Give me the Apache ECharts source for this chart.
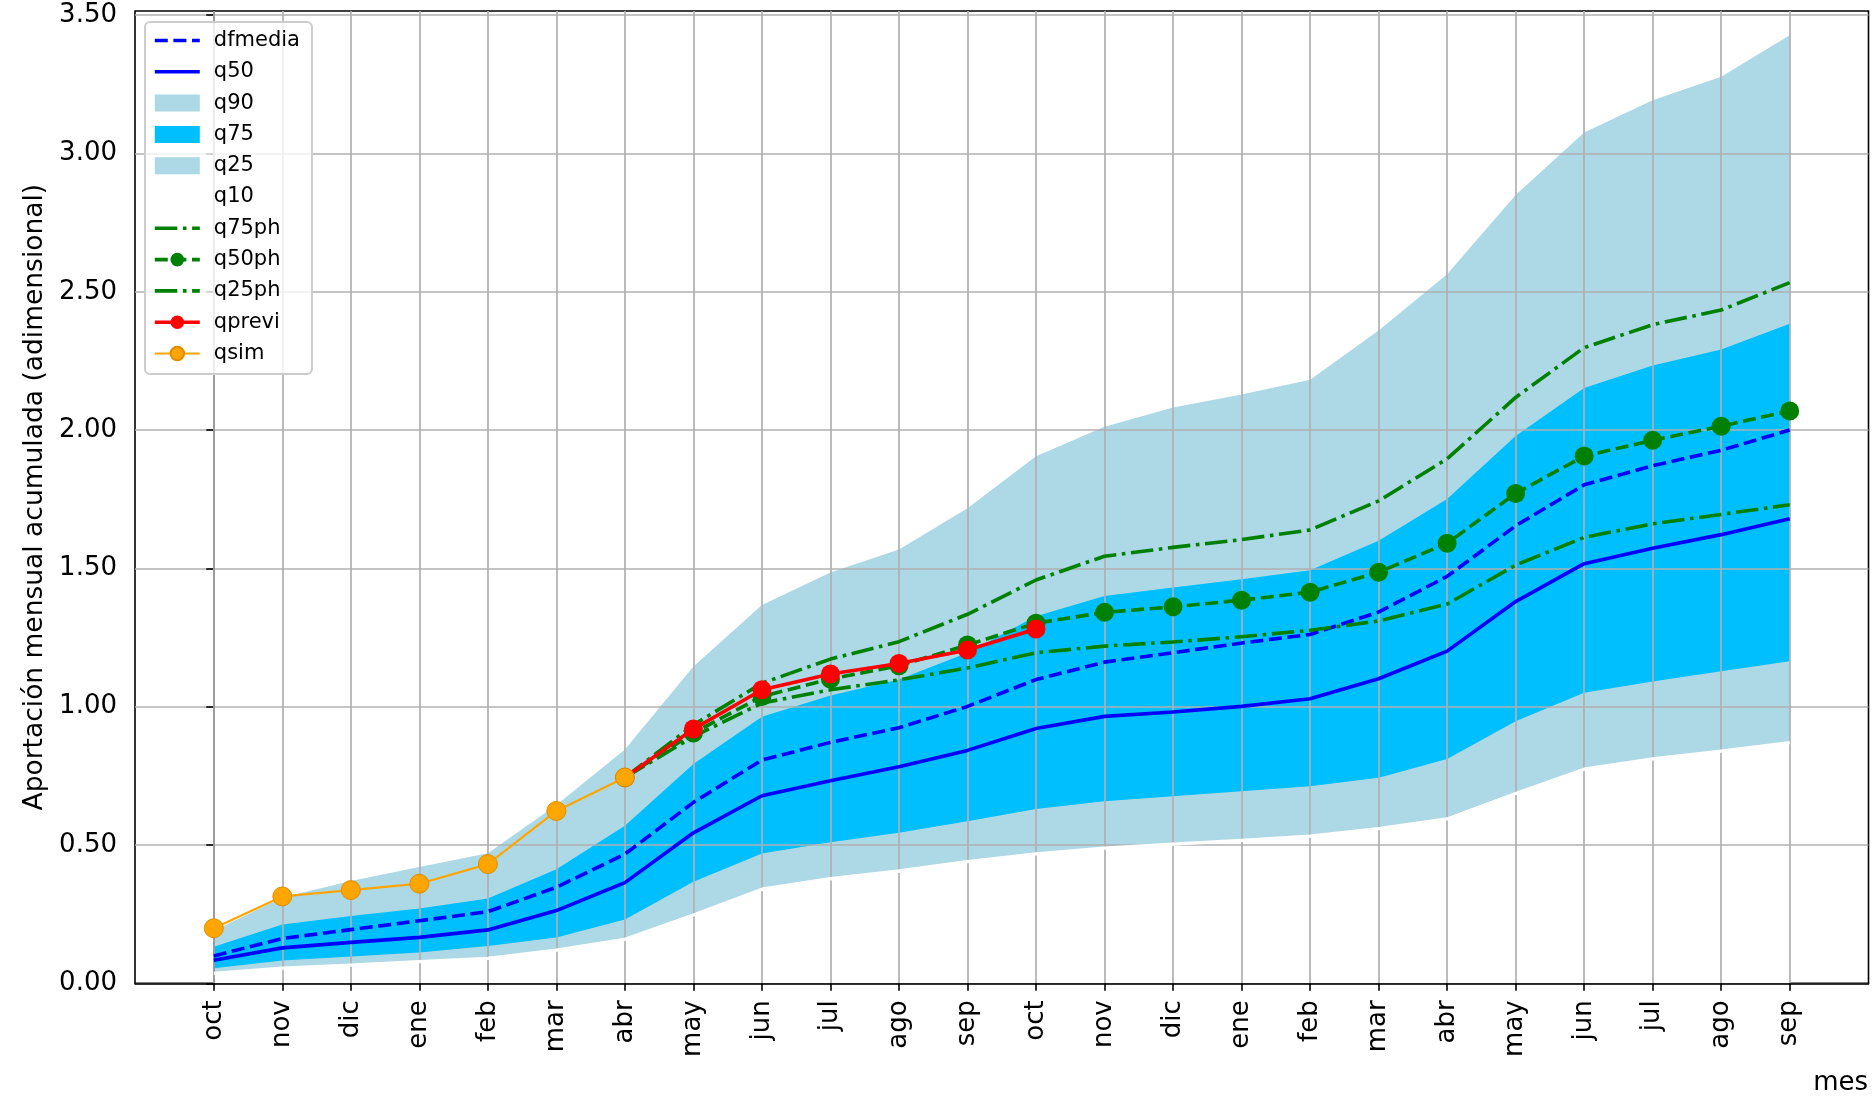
<!DOCTYPE html>
<html>
<head>
<meta charset="utf-8">
<script src="https://cdn.jsdelivr.net/npm/echarts@6/dist/echarts.min.js"></script>
<style>
html,body{margin:0;padding:0;background:#fff;}
#chart{width:1872px;height:1096px;}
</style>
</head>
<body>
<div id="chart"></div>
<script>
// ---- data ----
const months = ['oct','nov','dic','ene','feb','mar','abr','may','jun','jul','ago','sep',
                'oct','nov','dic','ene','feb','mar','abr','may','jun','jul','ago','sep'];
const yTicks = [0, 0.5, 1.0, 1.5, 2.0, 2.5, 3.0, 3.5];

const q90 = [0.19,0.31,0.37,0.42,0.47,0.645,0.845,1.145,1.368,1.485,1.568,1.717,1.905,2.012,2.082,2.129,2.182,2.36,2.563,2.85,3.076,3.192,3.277,3.427];
const q75 = [0.132,0.213,0.243,0.27,0.307,0.412,0.57,0.793,0.964,1.04,1.098,1.195,1.327,1.4,1.431,1.461,1.493,1.6,1.751,1.979,2.152,2.233,2.291,2.384];
const q25 = [0.054,0.082,0.097,0.111,0.135,0.166,0.231,0.367,0.469,0.51,0.544,0.586,0.63,0.658,0.676,0.694,0.712,0.743,0.811,0.947,1.05,1.091,1.128,1.164];
const q10 = [0.036,0.055,0.066,0.078,0.09,0.12,0.159,0.247,0.34,0.378,0.406,0.44,0.468,0.489,0.503,0.517,0.532,0.559,0.594,0.686,0.774,0.811,0.839,0.87];
const q50 = [0.083,0.128,0.148,0.166,0.193,0.263,0.364,0.544,0.678,0.732,0.783,0.842,0.921,0.965,0.981,1.001,1.029,1.101,1.201,1.38,1.517,1.573,1.622,1.679];
const dfmedia = [0.099,0.162,0.194,0.226,0.259,0.347,0.467,0.654,0.807,0.871,0.924,1.001,1.098,1.161,1.195,1.23,1.261,1.342,1.471,1.654,1.802,1.871,1.927,2.0];
const qsim = [0.199,0.314,0.337,0.36,0.431,0.623,0.744,null,null,null,null,null,null,null,null,null,null,null,null,null,null,null,null,null];
const qprevi = [null,null,null,null,null,null,0.744,0.919,1.061,1.118,1.156,1.205,1.281,null,null,null,null,null,null,null,null,null,null,null];
const q75ph = [null,null,null,null,null,null,0.744,0.934,1.085,1.172,1.235,1.334,1.458,1.544,1.576,1.604,1.639,1.744,1.896,2.118,2.298,2.381,2.434,2.533];
const q50ph = [null,null,null,null,null,null,0.744,0.905,1.037,1.1,1.148,1.223,1.302,1.341,1.361,1.385,1.414,1.486,1.591,1.771,1.906,1.963,2.014,2.069];
const q25ph = [null,null,null,null,null,null,0.744,0.892,1.013,1.061,1.097,1.14,1.195,1.219,1.234,1.253,1.276,1.31,1.371,1.512,1.612,1.661,1.695,1.73];

// ---- helpers ----
function pairs(arr){
  const out = [];
  arr.forEach((v,i)=>{ if (v !== null && v !== undefined) out.push([i, v]); });
  return out;
}
const idx = months.map((m,i)=>i);
const FONT = 'DejaVu Sans';
const LW = 3.6;
const DASH = [13, 5.6];
const DASHDOT = [22.5, 5.6, 3.6, 5.6];
const MS = 19;

function fill(name, arr, color, z){
  return {
    name: name, type: 'line', data: pairs(arr), z: z,
    symbol: 'none', silent: true, animation: false,
    itemStyle: {color: color},
    lineStyle: {width: 0, color: color},
    areaStyle: {color: color, opacity: 1, origin: 'start'}
  };
}
function line(name, arr, color, width, type, z, marker, extra){
  const s = {
    name: name, type: 'line', data: pairs(arr), z: z, animation: false,
    symbol: marker ? 'circle' : 'none', symbolSize: MS, showSymbol: !!marker,
    itemStyle: {color: color},
    lineStyle: {width: width, color: color, type: type, cap: 'butt', join: 'round'}
  };
  return Object.assign(s, extra || {});
}

const chart = echarts.init(document.getElementById('chart'), null, {renderer: 'canvas'});
chart.setOption({
  animation: false,
  backgroundColor: '#ffffff',
  textStyle: {fontFamily: FONT},
  grid: {
    left: 135, right: 3.5, top: 11, bottom: 112.7,
    show: true, borderColor: '#000000', borderWidth: 1.6, backgroundColor: 'transparent',
    containLabel: false, outerBoundsMode: 'none'
  },
  xAxis: {
    type: 'value', min: -1.15, max: 24.15, z: 6,
    axisLine: {show: true, onZero: false, lineStyle: {color: '#000', width: 1.6}},
    axisTick: {show: true, customValues: idx, length: 7.5, lineStyle: {color: '#000', width: 1.6}},
    axisLabel: {show: true, customValues: idx, rotate: 90, margin: 17, fontSize: 26, color: '#000', fontFamily: FONT,
                formatter: v => months[Math.round(v)]},
    splitLine: {show: true, lineStyle: {color: '#b0b0b0', width: 1.7}}
  },
  yAxis: {
    type: 'value', min: 0, max: 3.515, z: 5,
    name: 'Aportación mensual acumulada (adimensional)',
    nameLocation: 'middle', nameRotate: 90, nameGap: 86,
    nameTextStyle: {fontSize: 26.5, color: '#000', fontFamily: FONT},
    axisLine: {show: true, lineStyle: {color: '#000', width: 1.6}},
    axisTick: {show: true, customValues: yTicks, length: 7.5, lineStyle: {color: '#000', width: 1.6}},
    axisLabel: {show: true, customValues: yTicks, margin: 18, fontSize: 26, color: '#000', fontFamily: FONT,
                formatter: v => v.toFixed(2)},
    splitLine: {show: true, lineStyle: {color: '#b0b0b0', width: 1.7}}
  },
  graphic: [{
    type: 'text', right: 4, top: 1070, z: 100,
    style: {text: 'mes', font: '26px "DejaVu Sans"', fill: '#000'}
  }],
  legend: {
    orient: 'vertical', left: 145, top: 22, z: 30,
    itemWidth: 45, itemHeight: 17, itemGap: 10.3,
    padding: [8, 12, 10, 8],
    backgroundColor: 'rgba(255,255,255,0.8)', borderColor: '#cccccc', borderWidth: 2, borderRadius: 5,
    textStyle: {fontFamily: FONT, fontSize: 21, color: '#000', padding: [0, 0, 0, 9]},
    lineStyle: {width: LW},
    selectedMode: false,
    data: [
      {name: 'dfmedia', itemStyle: {opacity: 0}},
      {name: 'q50', itemStyle: {opacity: 0}},
      {name: 'q90', icon: 'rect', itemStyle: {color: '#ADD8E6'}},
      {name: 'q75', icon: 'rect', itemStyle: {color: '#00BFFF'}},
      {name: 'q25', icon: 'rect', itemStyle: {color: '#ADD8E6'}},
      {name: 'q10', icon: 'rect', itemStyle: {color: '#FFFFFF'}},
      {name: 'q75ph', itemStyle: {opacity: 0}},
      {name: 'q50ph'},
      {name: 'q25ph', itemStyle: {opacity: 0}},
      {name: 'qprevi'},
      {name: 'qsim', lineStyle: {width: 2.2}}
    ]
  },
  series: [
    fill('q90', q90, '#ADD8E6', 1),
    fill('q75', q75, '#00BFFF', 2),
    fill('q25', q25, '#ADD8E6', 3),
    fill('q10', q10, '#FFFFFF', 4),
    line('q10', q10, '#FFFFFF', 3.3, 'solid', 7, false),
    line('dfmedia', dfmedia, '#0000FF', LW, DASH, 8, false),
    line('q50', q50, '#0000FF', LW, 'solid', 8, false),
    line('q75ph', q75ph, '#008000', LW, DASHDOT, 9, false),
    line('q50ph', q50ph, '#008000', LW, DASH, 9, true),
    line('q25ph', q25ph, '#008000', LW, DASHDOT, 9, false),
    line('qprevi', qprevi, '#FF0000', LW, 'solid', 10, true),
    line('qsim', qsim, '#FFA500', 2.2, 'solid', 11, true,
         {itemStyle: {color: '#FFA500', borderColor: '#E08E00', borderWidth: 1}})
  ]
});
</script>
</body>
</html>
